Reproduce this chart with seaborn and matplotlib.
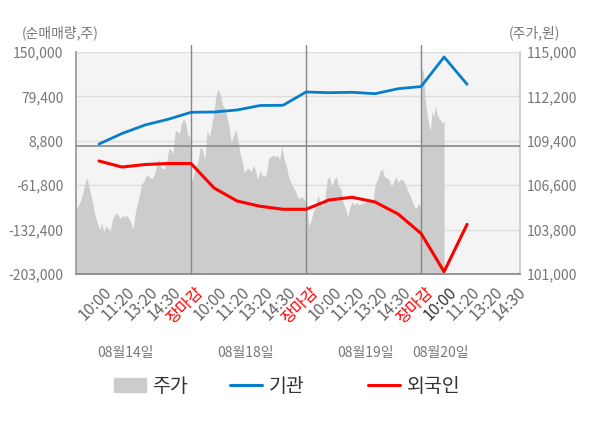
import numpy as np
import matplotlib
matplotlib.use("Agg")
import matplotlib.pyplot as plt
import matplotlib.transforms as mtrans
from matplotlib.patches import Patch
from matplotlib.lines import Line2D
import seaborn as sns

# 날짜 / 시간 라벨
days = ['08월14일', '08월18일', '08월19일', '08월20일']
tick_labels = ['10:00', '11:20', '13:20', '14:30', '장마감',
               '10:00', '11:20', '13:20', '14:30', '장마감',
               '10:00', '11:20', '13:20', '14:30', '장마감',
               '10:00', '11:20', '13:20', '14:30']

# 기관 / 외국인 순매매량 (주), 틱 위치마다
inst = [3700, 20400, 33900, 43000, 54100,
        54600, 57800, 64900, 65300, 86400,
        85300, 85900, 83700, 91600, 95100,
        142000, 98600]
foreign = [-23300, -32900, -28900, -27300, -27300,
           -66200, -86900, -95300, -100100, -100100,
           -85300, -81000, -88500, -107600, -138600,
           -199300, -124000]

# 주가 (원), 날짜별 장중 흐름
price_d1 = [105150, 105350, 105650, 106100, 106750, 107050, 106500, 105900, 105250,
            104600, 104200, 103800, 104200, 103650, 104000, 103900, 103650, 104400,
            104700, 104850, 104650, 104500, 104700, 104600, 104700, 104500, 104200,
            103800, 104850, 105450, 106000, 106700, 106800, 107150, 107250, 107050,
            107050, 107250, 107750, 108300, 107750, 107650, 107650, 108100, 108950,
            108800, 108600, 110000, 110000, 109850, 110500, 110800, 110500, 109750,
            109650]
price_d2 = [106800, 107350, 107750, 108200, 109050, 108800, 108200, 110100, 109650,
            110300, 111150, 112200, 112700, 112300, 111650, 111450, 110900, 110300,
            109250, 109750, 110100, 109450, 108600, 108100, 107350, 107650, 107650,
            107450, 107850, 107550, 106950, 107550, 107250, 107150, 107350, 108300,
            108400, 108500, 108400, 108500, 108200, 109050, 108200, 107850, 107150,
            106800, 106500, 106300, 105900, 105750, 105900, 105750, 105450]
price_d3 = [105650, 104000, 104400, 104950, 105250, 106000, 105450, 105250, 105750,
            106950, 107150, 106500, 106950, 107150, 106500, 106400, 105450, 105150,
            104600, 105250, 105550, 105350, 105550, 105350, 105450, 105450, 105650,
            105750, 105750, 105450, 106700, 106950, 107450, 107650, 107150, 107050,
            106950, 106500, 106800, 107150, 106800, 106950, 106950, 106700, 106300,
            106000, 105650, 105250, 105150, 105450, 105150]
price_d4 = [113950, 113750, 112000, 111150, 110500, 110000, 111250, 110900, 111650,
            111050, 110800, 110700, 110500, 110700]

left_ticks = [150000, 79400, 8800, -61800, -132400, -203000]
right_ticks = [115000, 112200, 109400, 106600, 103800, 101000]

sns.set_theme(style='white')
plt.rcParams['font.family'] = ['Noto Sans CJK KR', 'DejaVu Sans']

fig = plt.figure(figsize=(6, 4.28), dpi=100)
ax = fig.add_axes([76 / 600, 1 - 274 / 428, 444 / 600, 222 / 428])
ax2 = ax.twinx()
ax.set_facecolor('#f4f4f4')

# 가격 영역 (오른쪽 축)
spans = [(0.02, 4.95), (5.03, 10.0), (10.02, 15.0), (15.03, 16.0)]
px, py = [], []
for (a, b), p in zip(spans, [price_d1, price_d2, price_d3, price_d4]):
    px.extend(np.linspace(a, b, len(p)))
    py.extend(p)
ax.fill_between(px, 101000, py, color='#cccccc', lw=0, zorder=2)
ax.set_ylim(101000, 115000)
ax.yaxis.tick_right()
ax.set_yticks(right_ticks)
ax.set_yticklabels([f'{v:,}' for v in right_ticks])
ax.grid(axis='y', color='#dcdcdc', lw=1)
ax.set_axisbelow(True)

xmax = 19.3
ax.set_xlim(0, xmax)
ax.set_xticks(range(1, 20))
ax.set_xticklabels(tick_labels, rotation=45, ha='right', rotation_mode='anchor')
ax.set_xticks([0, 5, 10, 15, xmax], minor=True)
ax.tick_params(axis='x', which='major', length=0, pad=7, labelsize=11.5, labelcolor='#666666')
ax.tick_params(axis='x', which='minor', length=4, width=1, color='#888888', direction='out')
ax.tick_params(axis='y', length=0, pad=5, labelsize=10, labelcolor='#777777')
off = mtrans.ScaledTranslation(4 / 100, 0, fig.dpi_scale_trans)
for i, lab in enumerate(ax.get_xticklabels()):
    lab.set_transform(lab.get_transform() + off)
    if tick_labels[i] == '장마감':
        lab.set_color('red')
    elif i == 15:
        lab.set_color('#333333')

ax.spines['top'].set_visible(False)
ax.spines['bottom'].set_color('#888888')
ax.spines['left'].set_color('#999999')
ax.spines['right'].set_color('#cccccc')

for xv in [5, 10, 15]:
    ax.axvline(xv, ymin=0, ymax=1.032, color='#888888', lw=1, clip_on=False, zorder=3)

# 순매매량 선 (왼쪽 축)
ax2.yaxis.tick_left()
xs = np.arange(1, len(inst) + 1)
ax2.axhline(0, color='#888888', lw=1.2, zorder=1)
sns.lineplot(x=xs, y=inst, ax=ax2, color='#0a7dc9', lw=2.0, zorder=4)
sns.lineplot(x=xs, y=foreign, ax=ax2, color='#ff0000', lw=2.2, zorder=4)
ax2.set_ylim(-203000, 150000)
ax2.set_yticks(left_ticks)
ax2.set_yticklabels([f'{v:,}' for v in left_ticks])
ax2.tick_params(axis='y', length=0, pad=9, labelsize=10, labelcolor='#777777')
ax2.set_xlim(0, xmax)
for s in ax2.spines.values():
    s.set_visible(False)

fig.text(22 / 600, 1 - 33 / 428, '(순매매량,주)', fontsize=10, color='#777777', va='center')
fig.text(509 / 600, 1 - 33 / 428, '(주가,원)', fontsize=10, color='#777777', va='center')

date_x = [2.16, 7.38, 12.6, 15.86]
for d, xv in zip(days, date_x):
    ax.text(xv, -0.355, d, transform=ax.get_xaxis_transform(), ha='center', va='center',
            fontsize=10, color='#777777')

# 범례: 항목별로 따로 배치
legend_items = [(Patch(color='#cccccc'), '주가', 114),
                (Line2D([], [], color='#0a7dc9', lw=2.2), '기관', 230),
                (Line2D([], [], color='#ff0000', lw=2.2), '외국인', 368)]
for h, name, lx in legend_items:
    fig.legend([h], [name], loc='center left', bbox_to_anchor=(lx / 600, 1 - 386.5 / 428),
               frameon=False, fontsize=14, handlelength=1.65, handleheight=0.72,
               handletextpad=0.33, borderpad=0, borderaxespad=0, labelcolor='#333333')

fig.savefig('out.png', dpi=100)
